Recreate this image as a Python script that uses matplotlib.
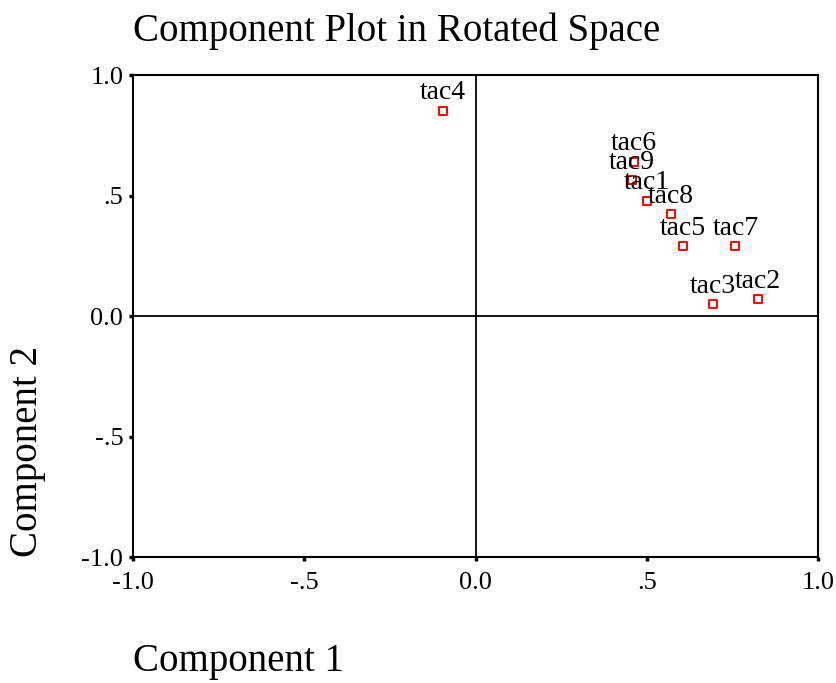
import matplotlib
matplotlib.use('Agg')
import matplotlib.pyplot as plt

# Component loadings
labels = ['tac1', 'tac2', 'tac3', 'tac4', 'tac5', 'tac6', 'tac7', 'tac8', 'tac9']
comp1 = [0.501, 0.825, 0.693, -0.096, 0.605, 0.462, 0.759, 0.571, 0.457]
comp2 = [0.477, 0.070, 0.048, 0.851, 0.290, 0.640, 0.290, 0.423, 0.564]

ticks = [-1.0, -0.5, 0.0, 0.5, 1.0]
tick_labels = ['-1.0', '-.5', '0.0', '.5', '1.0']

plt.rcParams['font.family'] = ['Liberation Serif', 'DejaVu Serif']

fig = plt.figure(figsize=(8.36, 6.83), dpi=100)
ax = fig.add_axes([133 / 836, 1 - 557 / 683, (818 - 133) / 836, (557 - 75) / 683])

ax.axhline(0, color='black', lw=1.3, zorder=1)
ax.axvline(0, color='black', lw=1.3, zorder=1)

ax.scatter(comp1, comp2, marker='s', s=36, facecolors='white',
           edgecolors='red', linewidths=1.4, zorder=3)
for name, x, y in zip(labels, comp1, comp2):
    ax.annotate(name, (x, y), xytext=(0, 4), textcoords='offset points',
                ha='center', va='bottom', fontsize=20, zorder=4)

ax.set_xlim(-1, 1)
ax.set_ylim(-1, 1)
ax.set_xticks(ticks)
ax.set_xticklabels(tick_labels)
ax.set_yticks(ticks)
ax.set_yticklabels(tick_labels)
ax.tick_params(direction='out', length=3, width=2.5, labelsize=19)
ax.tick_params(axis='x', pad=8)
ax.tick_params(axis='y', pad=4)

for sp in ax.spines.values():
    sp.set_linewidth(1.5)

fig.text(133 / 836, 1 - 31 / 683, 'Component Plot in Rotated Space',
         ha='left', va='center', fontsize=28)
fig.text(133 / 836, 1 - 662 / 683, 'Component 1',
         ha='left', va='center', fontsize=28)
fig.text(28 / 836, 1 - 557 / 683, 'Component 2', rotation=90,
         ha='center', va='bottom', fontsize=28)

fig.savefig('out.png', dpi=100)
